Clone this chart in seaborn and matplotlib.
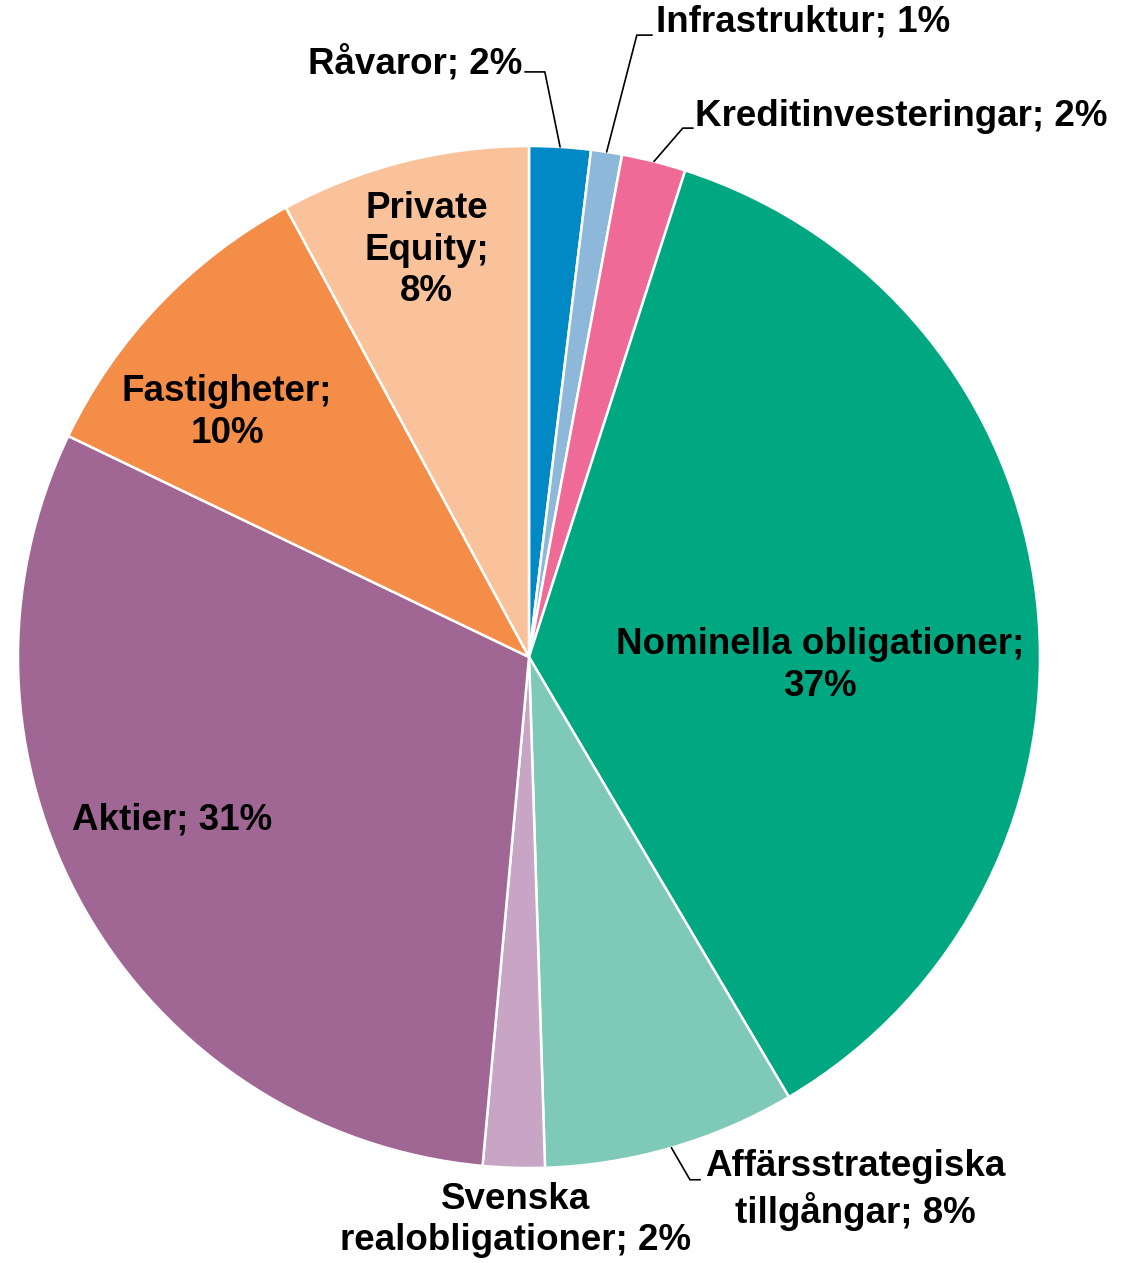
import numpy as np
import matplotlib
matplotlib.use("Agg")
import matplotlib.pyplot as plt
import seaborn as sns

sns.set_theme(style="white")
plt.rcParams["font.family"] = ["Liberation Sans", "DejaVu Sans"]

# Andelar per tillgangsslag (medsols fran klockan 12)
categories = [
    "Råvaror",
    "Infrastruktur",
    "Kreditinvesteringar",
    "Nominella obligationer",
    "Affärsstrategiska tillgångar",
    "Svenska realobligationer",
    "Aktier",
    "Fastigheter",
    "Private Equity",
]
shares = [1.94, 0.98, 2.03, 36.6, 8.0, 1.95, 30.7, 10.0, 7.9]
label_texts = [
    "Råvaror; 2%",
    "Infrastruktur; 1%",
    "Kreditinvesteringar; 2%",
    "Nominella obligationer;\n37%",
    "Affärsstrategiska\ntillgångar; 8%",
    "Svenska\nrealobligationer; 2%",
    "Aktier; 31%",
    "Fastigheter;\n10%",
    "Private\nEquity;\n8%",
]
colors = [
    "#0089C4", "#8DB8DA", "#F06A98", "#00A882", "#7FC9B8",
    "#C8A5C4", "#A06794", "#F38D48", "#F9C29B",
]

# label placement (x, y, ha) in units of radius, plus optional leader elbow
label_pos = [
    (-0.012, 1.162, "right"),
    (0.249, 1.243, "left"),
    (0.325, 1.057, "left"),
    (0.569, -0.016, "center"),
    (0.638, -1.043, "center"),
    (-0.027, -1.102, "center"),
    (-0.699, -0.319, "center"),
    (-0.591, 0.478, "center"),
    (-0.200, 0.796, "center"),
]
leaders = {
    0: ((0.031, 1.145), (-0.008, 1.145)),
    1: ((0.211, 1.217), (0.241, 1.217)),
    2: ((0.301, 1.035), (0.321, 1.035)),
    4: ((0.315, -1.023), (0.335, -1.023)),
}

W, H = 1132, 1263
fig = plt.figure(figsize=(W / 100, H / 100), dpi=100)
cx, cy, r = 529, 657, 511
ax = fig.add_axes([(cx - r) / W, (H - cy - r) / H, 2 * r / W, 2 * r / H])

wedges, _ = ax.pie(
    shares,
    colors=colors,
    startangle=90,
    counterclock=False,
    radius=1.0,
    wedgeprops=dict(edgecolor="white", linewidth=1.8),
)
ax.set_xlim(-1, 1)
ax.set_ylim(-1, 1)
ax.set_aspect("equal")
ax.axis("off")

for i, (txt, (x, y, ha)) in enumerate(zip(label_texts, label_pos)):
    ax.text(x, y, txt, ha=ha, va="center", fontsize=26.5, fontweight="bold",
            color="black", linespacing=1.25, clip_on=False)
    if i in leaders:
        w = wedges[i]
        mid = np.deg2rad((w.theta1 + w.theta2) / 2)
        edge = (np.cos(mid), np.sin(mid))
        elbow, end = leaders[i]
        ax.plot([edge[0], elbow[0], end[0]], [edge[1], elbow[1], end[1]],
                color="black", linewidth=1.2, clip_on=False)

fig.savefig("out.png", dpi=100)
